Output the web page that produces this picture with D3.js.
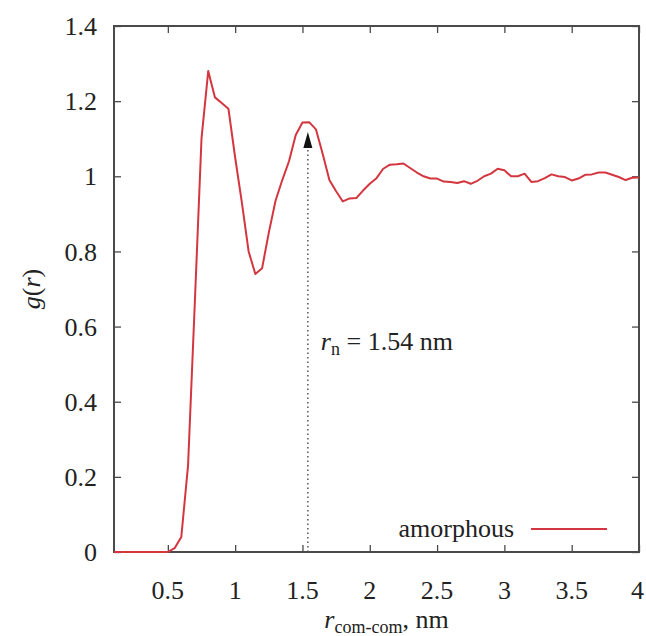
<!DOCTYPE html>
<html>
<head>
<meta charset="utf-8">
<script src="https://cdn.jsdelivr.net/npm/d3@7"></script>
<style>
    body { margin: 0; background: #fff; }
    svg text { font-family: "Liberation Serif", "DejaVu Serif", serif; fill: #222; }
</style>
</head>
<body>
<svg id="chart" width="646" height="636"></svg>
<script>

// radial distribution
var rValues = [0.1, 0.5, 0.55, 0.6, 0.65, 0.7, 0.75, 0.8, 0.85, 0.9, 0.95, 1.0, 1.05, 1.1, 1.15, 1.2,
    1.25, 1.3, 1.35, 1.4, 1.45, 1.5, 1.55, 1.6, 1.65, 1.7, 1.75, 1.8, 1.85, 1.9, 1.95, 2.0,
    2.05, 2.1, 2.15, 2.2, 2.25, 2.3, 2.35, 2.4, 2.45, 2.5, 2.55, 2.6, 2.65, 2.7, 2.75, 2.8,
    2.85, 2.9, 2.95, 3.0, 3.05, 3.1, 3.15, 3.2, 3.25, 3.3, 3.35, 3.4, 3.45, 3.5, 3.55, 3.6,
    3.65, 3.7, 3.75, 3.8, 3.85, 3.9, 3.95, 4.0];
var gValues = [0, 0, 0.01, 0.04, 0.23, 0.66, 1.10, 1.28, 1.21, 1.195, 1.18, 1.05, 0.93, 0.80, 0.74, 0.755,
    0.85, 0.935, 0.99, 1.04, 1.11, 1.143, 1.144, 1.125, 1.06, 0.99, 0.96, 0.933, 0.941, 0.942, 0.962, 0.98,
    0.995, 1.02, 1.031, 1.032, 1.034, 1.022, 1.01, 1.0, 0.994, 0.994, 0.986, 0.985, 0.982, 0.987, 0.98, 0.988,
    1.0, 1.007, 1.02, 1.016, 1.0, 1.0, 1.007, 0.985, 0.987, 0.995, 1.005, 1.0, 0.998, 0.989, 0.994, 1.004,
    1.005, 1.01, 1.01, 1.004, 0.998, 0.99, 0.996, 0.997];

var xTicks = [0.5, 1, 1.5, 2, 2.5, 3, 3.5, 4];
var yTicks = [0, 0.2, 0.4, 0.6, 0.8, 1, 1.2, 1.4];
var seriesName = "amorphous";
var peakR = 1.54;
var peakG = 1.118;

var svg = d3.select("#chart");
var plotLeft = 114, plotRight = 639, plotTop = 26, plotBottom = 552;

var x = d3.scaleLinear().domain([0.1, 4]).range([plotLeft, plotRight]);
var y = d3.scaleLinear().domain([0, 1.4]).range([plotBottom, plotTop]);

//****************************AXES***************************************************

var axisColor = "#4a4a4a";
function styleAxis(g) {
    g.select(".domain").remove();
    g.selectAll(".tick line").attr("stroke", axisColor).attr("stroke-width", 1.3);
}

svg.append("g").attr("transform", "translate(0," + plotBottom + ")")
    .call(d3.axisTop(x).tickValues(xTicks).tickSize(7).tickFormat(""))
    .call(styleAxis);
svg.append("g").attr("transform", "translate(0," + plotTop + ")")
    .call(d3.axisBottom(x).tickValues(xTicks).tickSize(7).tickFormat(""))
    .call(styleAxis);
svg.append("g").attr("transform", "translate(" + plotLeft + ",0)")
    .call(d3.axisRight(y).tickValues(yTicks).tickSize(7).tickFormat(""))
    .call(styleAxis);
svg.append("g").attr("transform", "translate(" + plotRight + ",0)")
    .call(d3.axisLeft(y).tickValues(yTicks).tickSize(7).tickFormat(""))
    .call(styleAxis);

svg.append("rect")
    .attr("x", plotLeft).attr("y", plotTop)
    .attr("width", plotRight - plotLeft).attr("height", plotBottom - plotTop)
    .attr("fill", "none").attr("stroke", axisColor).attr("stroke-width", 2);

// tick labels
svg.selectAll("text.xlab").data(xTicks).enter()
    .append("text").attr("class", "xlab")
    .attr("x", function (d) { return d === 4 ? x(d) + 5 : x(d); })
    .attr("y", plotBottom + 47)
    .attr("text-anchor", function (d) { return d === 4 ? "end" : "middle"; })
    .style("font-size", "26px")
    .text(function (d) { return d; });

svg.selectAll("text.ylab").data(yTicks).enter()
    .append("text").attr("class", "ylab")
    .attr("x", plotLeft - 17)
    .attr("y", function (d) { return y(d); })
    .attr("dy", "0.35em")
    .attr("text-anchor", "end")
    .style("font-size", "26px")
    .text(function (d) { return d; });

// axis titles
var xTitle = svg.append("text")
    .attr("x", (plotLeft + plotRight) / 2 + 10).attr("y", 628)
    .attr("text-anchor", "middle")
    .style("font-size", "26px");
xTitle.append("tspan").style("font-style", "italic").text("r");
xTitle.append("tspan").attr("dy", 5).style("font-size", "18px").text("com-com");
xTitle.append("tspan").attr("dy", -5).text(", nm");

var yTitle = svg.append("text")
    .attr("transform", "translate(40," + ((plotTop + plotBottom) / 2) + ") rotate(-90)")
    .attr("text-anchor", "middle")
    .style("font-size", "26px");
yTitle.append("tspan").style("font-style", "italic").text("g");
yTitle.append("tspan").text("(");
yTitle.append("tspan").style("font-style", "italic").text("r");
yTitle.append("tspan").text(")");

//****************************PEAK ARROW***************************************************

svg.append("line")
    .attr("x1", x(peakR)).attr("x2", x(peakR))
    .attr("y1", y(0)).attr("y2", y(peakG) + 14)
    .attr("stroke", "#555").attr("stroke-width", 1.5)
    .attr("stroke-dasharray", "1.5,3");

svg.append("path")
    .attr("d", "M" + x(peakR) + "," + y(peakG) +
        " L" + (x(peakR) - 4.5) + "," + (y(peakG) + 16) +
        " L" + (x(peakR) + 4.5) + "," + (y(peakG) + 16) + " Z")
    .attr("fill", "#111");

var peakLabel = svg.append("text")
    .attr("x", x(peakR) + 13).attr("y", 350)
    .style("font-size", "26px");
peakLabel.append("tspan").style("font-style", "italic").text("r");
peakLabel.append("tspan").attr("dy", 5).style("font-size", "18px").text("n");
peakLabel.append("tspan").attr("dy", -5).text(" = 1.54 nm");

//****************************CURVE***************************************************

var points = rValues.map(function (r, i) { return [r, gValues[i]]; });
var line = d3.line()
    .x(function (d) { return x(d[0]); })
    .y(function (d) { return y(d[1]); });

svg.append("path")
    .datum(points)
    .attr("d", line)
    .attr("fill", "none")
    .attr("stroke", "#d4363f")
    .attr("stroke-width", 2)
    .attr("stroke-linejoin", "round");

//****************************LEGEND***************************************************

svg.append("text")
    .attr("x", 514).attr("y", 529)
    .attr("dy", "0.32em")
    .attr("text-anchor", "end")
    .style("font-size", "26px")
    .text(seriesName);

svg.append("line")
    .attr("x1", 531).attr("x2", 607)
    .attr("y1", 529).attr("y2", 529)
    .attr("stroke", "#d4363f").attr("stroke-width", 2);

</script>
</body>
</html>
